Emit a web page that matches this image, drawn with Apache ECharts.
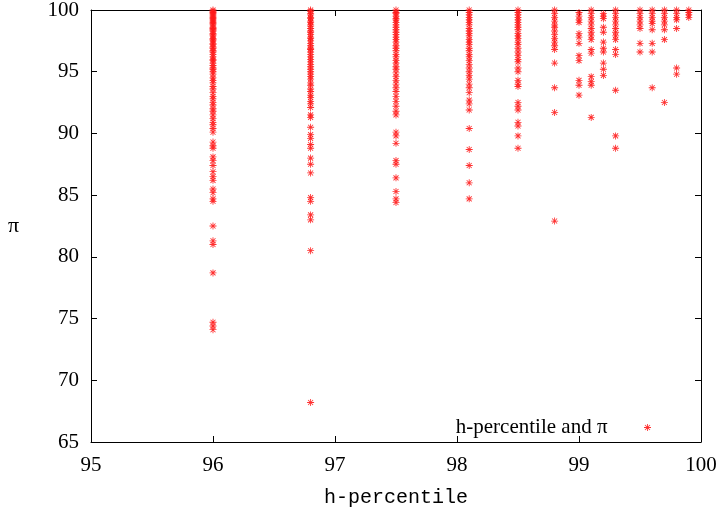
<!DOCTYPE html>
<html>
<head>
<meta charset="utf-8">
<script src="https://cdn.jsdelivr.net/npm/echarts@6/dist/echarts.min.js"></script>
<style>html,body{margin:0;padding:0;background:#fff}#c{width:721px;height:508px}</style>
</head>
<body>
<div id="c"></div>
<script>
// h-percentile positions of each column
var columnX = [96.0, 96.8, 97.5, 98.1, 98.5, 98.8, 99.0, 99.1, 99.2, 99.3, 99.5, 99.6, 99.7, 99.8, 99.9];
// pi values at each column
var pi960 = [100.0, 99.9, 99.8, 99.7, 99.6, 99.5, 99.4, 99.3, 99.2, 99.1, 99.0, 98.9, 98.8, 98.6, 98.5, 98.4, 98.3, 98.1, 98.0, 97.9, 97.7, 97.6, 97.5, 97.3, 97.2, 97.0, 96.9, 96.7, 96.6, 96.4, 96.2, 96.0, 95.9, 95.7, 95.5, 95.3, 95.2, 95.0, 94.8, 94.5, 94.3, 94.1, 93.8, 93.6, 93.3, 93.0, 92.8, 92.5, 92.3, 92.0, 91.8, 91.5, 91.2, 90.9, 90.7, 90.4, 90.1, 89.3, 89.0, 88.8, 88.1, 87.8, 87.4, 86.9, 86.5, 86.2, 85.5, 85.2, 84.7, 84.5, 82.5, 81.3, 81.0, 78.7, 74.7, 74.4, 74.1];
var pi968 = [100.0, 99.9, 99.7, 99.6, 99.4, 99.3, 99.1, 99.0, 98.8, 98.7, 98.5, 98.3, 98.2, 98.0, 97.8, 97.7, 97.5, 97.3, 97.1, 96.9, 96.8, 96.6, 96.4, 96.2, 96.0, 95.8, 95.6, 95.4, 95.2, 95.0, 94.8, 94.6, 94.4, 94.1, 93.9, 93.6, 93.4, 93.1, 92.9, 92.6, 92.4, 92.1, 91.5, 91.3, 90.5, 89.9, 89.6, 89.1, 88.8, 88.0, 87.5, 86.8, 84.8, 84.5, 83.4, 83.0, 80.5, 68.2];
var pi975 = [100.0, 99.8, 99.7, 99.5, 99.3, 99.2, 99.0, 98.8, 98.6, 98.4, 98.2, 98.0, 97.8, 97.6, 97.4, 97.1, 96.9, 96.7, 96.4, 96.2, 95.9, 95.7, 95.4, 95.2, 94.9, 94.6, 94.3, 94.0, 93.7, 93.4, 93.0, 92.6, 92.2, 91.8, 91.5, 90.1, 89.8, 89.2, 87.8, 87.5, 86.4, 85.3, 84.7, 84.4];
var pi981 = [100.0, 99.8, 99.6, 99.4, 99.2, 99.0, 98.8, 98.5, 98.3, 98.1, 97.9, 97.6, 97.4, 97.2, 96.9, 96.7, 96.4, 96.2, 95.9, 95.6, 95.3, 95.0, 94.7, 94.4, 94.0, 93.7, 93.3, 92.7, 92.4, 91.9, 90.4, 88.7, 87.4, 86.0, 84.7];
var pi985 = [100.0, 99.8, 99.6, 99.4, 99.2, 99.0, 98.8, 98.6, 98.4, 98.1, 97.9, 97.7, 97.4, 97.2, 96.9, 96.6, 96.3, 96.0, 95.8, 95.3, 95.0, 94.3, 94.0, 93.8, 92.5, 92.2, 91.9, 90.9, 90.6, 89.8, 88.8];
var pi988 = [100.0, 99.7, 99.4, 99.1, 98.8, 98.6, 98.3, 98.0, 97.7, 97.4, 97.1, 96.8, 95.7, 93.7, 91.7, 82.9];
var pi990 = [99.8, 99.5, 99.2, 99.0, 98.1, 97.8, 97.3, 96.3, 95.9, 94.3, 93.9, 93.1];
var pi991 = [100.0, 99.7, 99.4, 99.1, 98.8, 98.5, 98.2, 97.9, 97.6, 96.8, 96.5, 94.6, 94.2, 93.9, 91.3];
var pi992 = [99.7, 99.5, 99.3, 98.6, 98.2, 97.4, 96.9, 96.6, 95.7, 95.2, 94.7];
var pi993 = [100.0, 99.7, 99.4, 99.1, 98.8, 98.5, 98.2, 97.9, 97.6, 96.8, 96.4, 93.5, 89.8, 88.8];
var pi995 = [100.0, 99.7, 99.4, 99.1, 98.8, 98.5, 97.3, 96.6];
var pi996 = [100.0, 99.7, 99.4, 99.1, 98.9, 98.4, 97.3, 96.6, 93.7];
var pi997 = [100.0, 99.7, 99.4, 99.1, 98.8, 98.4, 97.6, 92.5];
var pi998 = [100.0, 99.7, 99.4, 99.2, 98.5, 95.3, 94.8];
var pi999 = [100.0, 99.8, 99.6, 99.4];
var columnPi = [pi960, pi968, pi975, pi981, pi985, pi988, pi990, pi991, pi992, pi993, pi995, pi996, pi997, pi998, pi999];
var xTicks = [95, 96, 97, 98, 99, 100];
var yTicks = [65, 70, 75, 80, 85, 90, 95, 100];
var seriesName = 'h-percentile and \u03c0';
var xTitle = 'h-percentile';
var yTitle = '\u03c0';

var points = [];
columnX.forEach(function (x, i) {
  columnPi[i].forEach(function (y) { points.push([x, y]); });
});

var star = 'path://M0,4.4H10V5.6H0Z M4.4,0H5.6V10H4.4Z M1.0,1.85L1.85,1.0L9.0,8.15L8.15,9.0Z M1.0,8.15L8.15,1.0L9.0,1.85L1.85,9.0Z';
var serif = 'Liberation Serif';

var chart = echarts.init(document.getElementById('c'), null, {renderer: 'canvas'});
chart.setOption({
  animation: false,
  backgroundColor: '#fff',
  grid: {left: 91, right: 20, top: 10, bottom: 66, containLabel: false, outerBoundsMode: 'none'},
  legend: {
    show: true,
    data: [seriesName],
    right: 70, top: 417, padding: 0,
    align: 'right',
    itemWidth: 70, itemHeight: 7,
    selectedMode: false,
    textStyle: {fontFamily: serif, fontSize: 21, color: '#000'}
  },
  xAxis: [{
    type: 'value', min: xTicks[0], max: xTicks[xTicks.length - 1], interval: 1,
    name: xTitle, nameLocation: 'middle', nameGap: 46,
    nameTextStyle: {fontFamily: 'Liberation Mono', fontSize: 20, color: '#000'},
    axisLine: {show: true, onZero: false, lineStyle: {color: '#000', width: 1}},
    axisTick: {show: true, inside: true, length: 6, lineStyle: {color: '#000'}},
    axisLabel: {fontFamily: serif, fontSize: 21, color: '#000', margin: 13},
    splitLine: {show: false}
  }, {
    type: 'value', position: 'top', min: xTicks[0], max: xTicks[xTicks.length - 1], interval: 1,
    axisLine: {show: true, onZero: false, lineStyle: {color: '#000', width: 1}},
    axisTick: {show: true, inside: true, length: 6, lineStyle: {color: '#000'}},
    axisLabel: {show: false}, splitLine: {show: false}
  }],
  yAxis: [{
    type: 'value', min: yTicks[0], max: yTicks[yTicks.length - 1], interval: 5,
    name: yTitle, nameLocation: 'middle', nameGap: 72, nameRotate: 0,
    nameTextStyle: {fontFamily: serif, fontSize: 22, color: '#000'},
    axisLine: {show: true, onZero: false, lineStyle: {color: '#000', width: 1}},
    axisTick: {show: true, inside: true, length: 6, lineStyle: {color: '#000'}},
    axisLabel: {fontFamily: serif, fontSize: 21, color: '#000', margin: 12},
    splitLine: {show: false}
  }, {
    type: 'value', position: 'right', min: yTicks[0], max: yTicks[yTicks.length - 1], interval: 5,
    axisLine: {show: true, onZero: false, lineStyle: {color: '#000', width: 1}},
    axisTick: {show: true, inside: true, length: 6, lineStyle: {color: '#000'}},
    axisLabel: {show: false}, splitLine: {show: false}
  }],
  series: [{
    name: seriesName,
    type: 'scatter',
    xAxisIndex: 0, yAxisIndex: 0,
    symbol: star, symbolSize: 7, symbolKeepAspect: true,
    clip: false,
    itemStyle: {color: '#ff1a1a', opacity: 0.9},
    data: points
  }]
});
</script>
</body>
</html>
